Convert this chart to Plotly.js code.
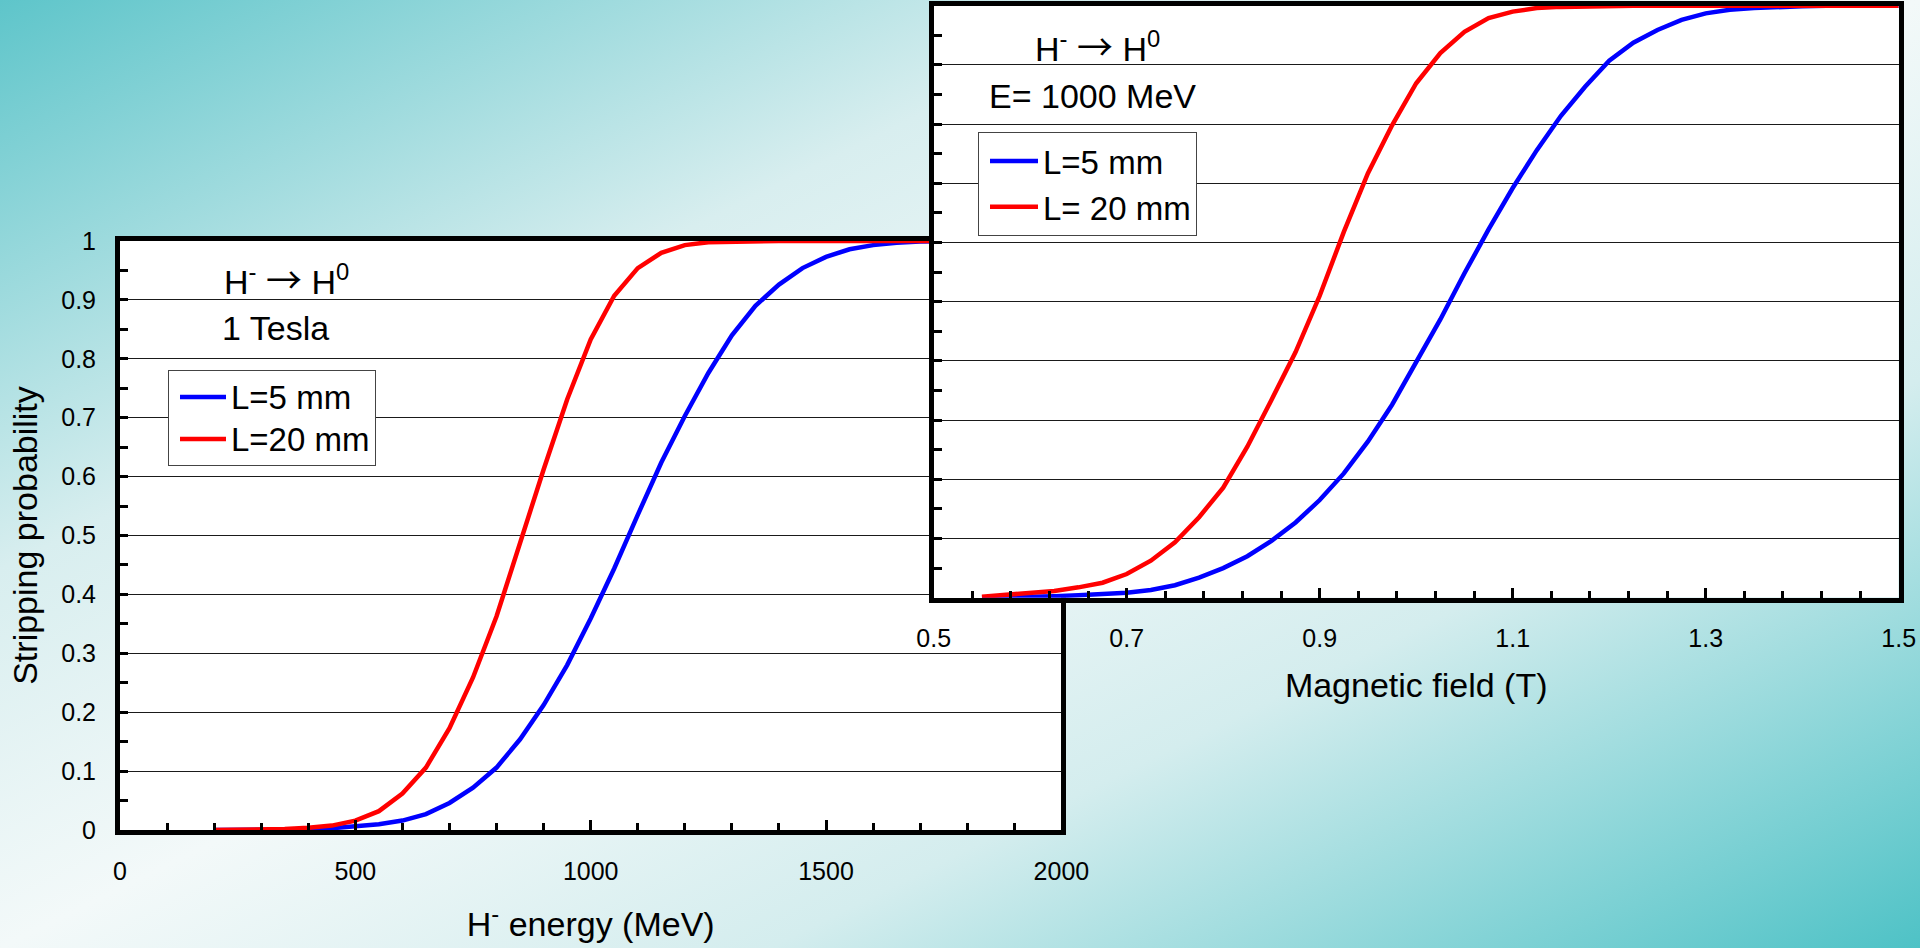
<!DOCTYPE html>
<html>
<head>
<meta charset="utf-8">
<script src="https://cdn.plot.ly/plotly-3.0.1.min.js"></script>
<style>
html, body { margin:0; padding:0; width:1920px; height:948px; overflow:hidden;
  background: linear-gradient(to bottom right, #5ec5ca 0%, #d8eeef 30%, #f3f9f9 50%, #d4edee 70%, #4ec2c6 100%); }
#chart { width:1920px; height:948px; }
</style>
</head>
<body>
<div id="chart"></div>
<script>
// ---- Left chart: stripping probability vs H- energy (1 Tesla)
const energy = [200,250,300,350,400,450,500,550,600,650,700,750,800,850,900,950,1000,1050,1100,1150,1200,1250,1300,1350,1400,1450,1500,1550,1600,1650,1700,1750,1800,1850,1900,1950,2000];
const energyL5 = [0,0,0.0001,0.0004,0.001,0.003,0.006,0.0097,0.016,0.027,0.046,0.072,0.106,0.154,0.212,0.280,0.359,0.444,0.535,0.624,0.703,0.776,0.840,0.890,0.926,0.954,0.973,0.986,0.993,0.997,0.999,1,1,1,1,1,1];
const energyL20 = [0,0.0001,0.0004,0.0015,0.004,0.0075,0.016,0.032,0.062,0.106,0.173,0.259,0.363,0.490,0.612,0.731,0.833,0.907,0.954,0.980,0.993,0.998,0.999,1,1,1,1,1,1,1,1,1,1,1,1,1,1];

// ---- Right chart: stripping probability vs magnetic field (E = 1000 MeV)
const field = [0.55,0.575,0.6,0.625,0.65,0.675,0.7,0.725,0.75,0.775,0.8,0.825,0.85,0.875,0.9,0.925,0.95,0.975,1.0,1.025,1.05,1.075,1.1,1.125,1.15,1.175,1.2,1.225,1.25,1.275,1.3,1.325,1.35,1.375,1.4,1.425,1.45,1.475,1.5];
const fieldL5 = [0.0004,0.0008,0.0015,0.0025,0.004,0.0058,0.0085,0.013,0.021,0.034,0.050,0.070,0.096,0.127,0.165,0.210,0.264,0.326,0.398,0.470,0.548,0.622,0.692,0.756,0.814,0.863,0.907,0.9375,0.959,0.976,0.987,0.993,0.996,0.998,0.999,1,1,1,1];
const fieldL20 = [0.0017,0.0045,0.0074,0.0113,0.0175,0.0253,0.040,0.0625,0.0935,0.136,0.186,0.255,0.334,0.415,0.510,0.618,0.717,0.798,0.869,0.920,0.956,0.979,0.990,0.996,0.998,0.999,1,1,1,1,1,1,1,1,1,1,1,1,1];

const leftNames = ['L=5 mm', 'L=20 mm'];
const rightNames = ['L=5 mm', 'L= 20 mm'];
const leftTickVals = [0, 500, 1000, 1500, 2000];
const rightTickVals = [0.5, 0.7, 0.9, 1.1, 1.3, 1.5];
const rightTickText = ['0.5', '0.7', '0.9', '1.1', '1.3', '1.5'];

const FONT = 'Arial, "Liberation Sans", sans-serif';
const BLUE = '#0000ff', RED = '#ff0000';
const ARROW = '<span style="font-family:\'Noto Sans CJK JP\';font-size:36px">→</span>';
const big = s => '<span style="font-size:33px">' + s + '</span>';

const traces = [
  {x: energy, y: energyL5, name: big(leftNames[0]), mode: 'lines', line: {color: BLUE, width: 4.5}, xaxis: 'x', yaxis: 'y', legend: 'legend'},
  {x: energy, y: energyL20, name: big(leftNames[1]), mode: 'lines', line: {color: RED, width: 4.5}, xaxis: 'x', yaxis: 'y', legend: 'legend'},
  {x: field, y: fieldL5, name: big(rightNames[0]), mode: 'lines', line: {color: BLUE, width: 4.5}, xaxis: 'x2', yaxis: 'y2', legend: 'legend2'},
  {x: field, y: fieldL20, name: big(rightNames[1]), mode: 'lines', line: {color: RED, width: 4.5}, xaxis: 'x2', yaxis: 'y2', legend: 'legend2'}
];

const axisCommon = {
  showline: true, linewidth: 5, linecolor: '#000', mirror: true,
  ticks: 'inside', tickcolor: '#000', tickwidth: 3,
  zeroline: false, tickfont: {family: FONT, size: 25, color: '#000'}
};

const layout = {
  width: 1920, height: 948,
  margin: {l: 0, r: 0, t: 0, b: 0},
  paper_bgcolor: 'rgba(0,0,0,0)',
  plot_bgcolor: '#ffffff',
  font: {family: FONT, color: '#000', size: 25},
  showlegend: true,
  xaxis: Object.assign({}, axisCommon, {
    domain: [0.0625, 0.5528], range: [0, 2000], anchor: 'y',
    tickmode: 'array', tickvals: leftTickVals, ticklen: 10,
    minor: {dtick: 100, tick0: 0, ticks: 'inside', ticklen: 7, tickwidth: 3, tickcolor: '#000', showgrid: false},
    showgrid: false, ticklabelstandoff: 15,
    title: {text: 'H<sup>-</sup> energy (MeV)', font: {family: FONT, size: 34, color: '#000'}, standoff: 30}
  }),
  yaxis: Object.assign({}, axisCommon, {
    domain: [0.12447, 0.74578], range: [0, 1], anchor: 'x',
    dtick: 0.1, tick0: 0, ticklen: 8,
    minor: {dtick: 0.05, ticks: 'inside', ticklen: 8, tickwidth: 3, tickcolor: '#000', showgrid: false},
    showgrid: true, gridcolor: '#1a1a1a', gridwidth: 1, ticklabelstandoff: 14,
    title: {text: 'Stripping probability', font: {family: FONT, size: 34, color: '#000'}, standoff: 15}
  }),
  xaxis2: Object.assign({}, axisCommon, {
    domain: [0.4863, 0.98891], range: [0.5, 1.5], anchor: 'y2',
    tickmode: 'array', tickvals: rightTickVals, ticktext: rightTickText, ticklen: 10,
    minor: {dtick: 0.04, tick0: 0.5, ticks: 'inside', ticklen: 7, tickwidth: 3, tickcolor: '#000', showgrid: false},
    showgrid: false, ticklabelstandoff: 14,
    title: {text: 'Magnetic field (T)', font: {family: FONT, size: 34, color: '#000'}, standoff: 24}
  }),
  yaxis2: Object.assign({}, axisCommon, {
    domain: [0.36951, 0.99399], range: [0, 1], anchor: 'x2',
    dtick: 0.1, tick0: 0, ticklen: 8, showticklabels: false,
    minor: {dtick: 0.05, ticks: 'inside', ticklen: 8, tickwidth: 3, tickcolor: '#000', showgrid: false},
    showgrid: true, gridcolor: '#1a1a1a', gridwidth: 1
  }),
  legend: {
    x: 168/1920, y: (948-370)/948, xanchor: 'left', yanchor: 'top',
    bgcolor: '#ffffff', bordercolor: '#444', borderwidth: 1,
    font: {family: FONT, size: 30, color: '#000'}, itemwidth: 46, indentation: 6, tracegroupgap: 0
  },
  legend2: {
    x: 978/1920, y: (948-132)/948, xanchor: 'left', yanchor: 'top',
    bgcolor: '#ffffff', bordercolor: '#444', borderwidth: 1,
    font: {family: FONT, size: 33, color: '#000'}, itemwidth: 48, indentation: 6, tracegroupgap: 0
  },
  annotations: [
    {text: 'H<sup>-</sup> ' + ARROW + ' H<sup>0</sup>', xref: 'paper', yref: 'paper', x: 222/1920, y: (948-278)/948, xanchor: 'left', yanchor: 'middle', showarrow: false, font: {family: FONT, size: 34, color: '#000'}},
    {text: '1 Tesla', xref: 'paper', yref: 'paper', x: 220/1920, y: (948-328)/948, xanchor: 'left', yanchor: 'middle', showarrow: false, font: {family: FONT, size: 34, color: '#000'}},
    {text: 'H<sup>-</sup> ' + ARROW + ' H<sup>0</sup>', xref: 'paper', yref: 'paper', x: 1033/1920, y: (948-45)/948, xanchor: 'left', yanchor: 'middle', showarrow: false, font: {family: FONT, size: 34, color: '#000'}},
    {text: 'E= 1000 MeV', xref: 'paper', yref: 'paper', x: 987/1920, y: (948-96)/948, xanchor: 'left', yanchor: 'middle', showarrow: false, font: {family: FONT, size: 34, color: '#000'}}
  ]
};

Plotly.newPlot('chart', traces, layout, {displayModeBar: false, staticPlot: true});
</script>
</body>
</html>
